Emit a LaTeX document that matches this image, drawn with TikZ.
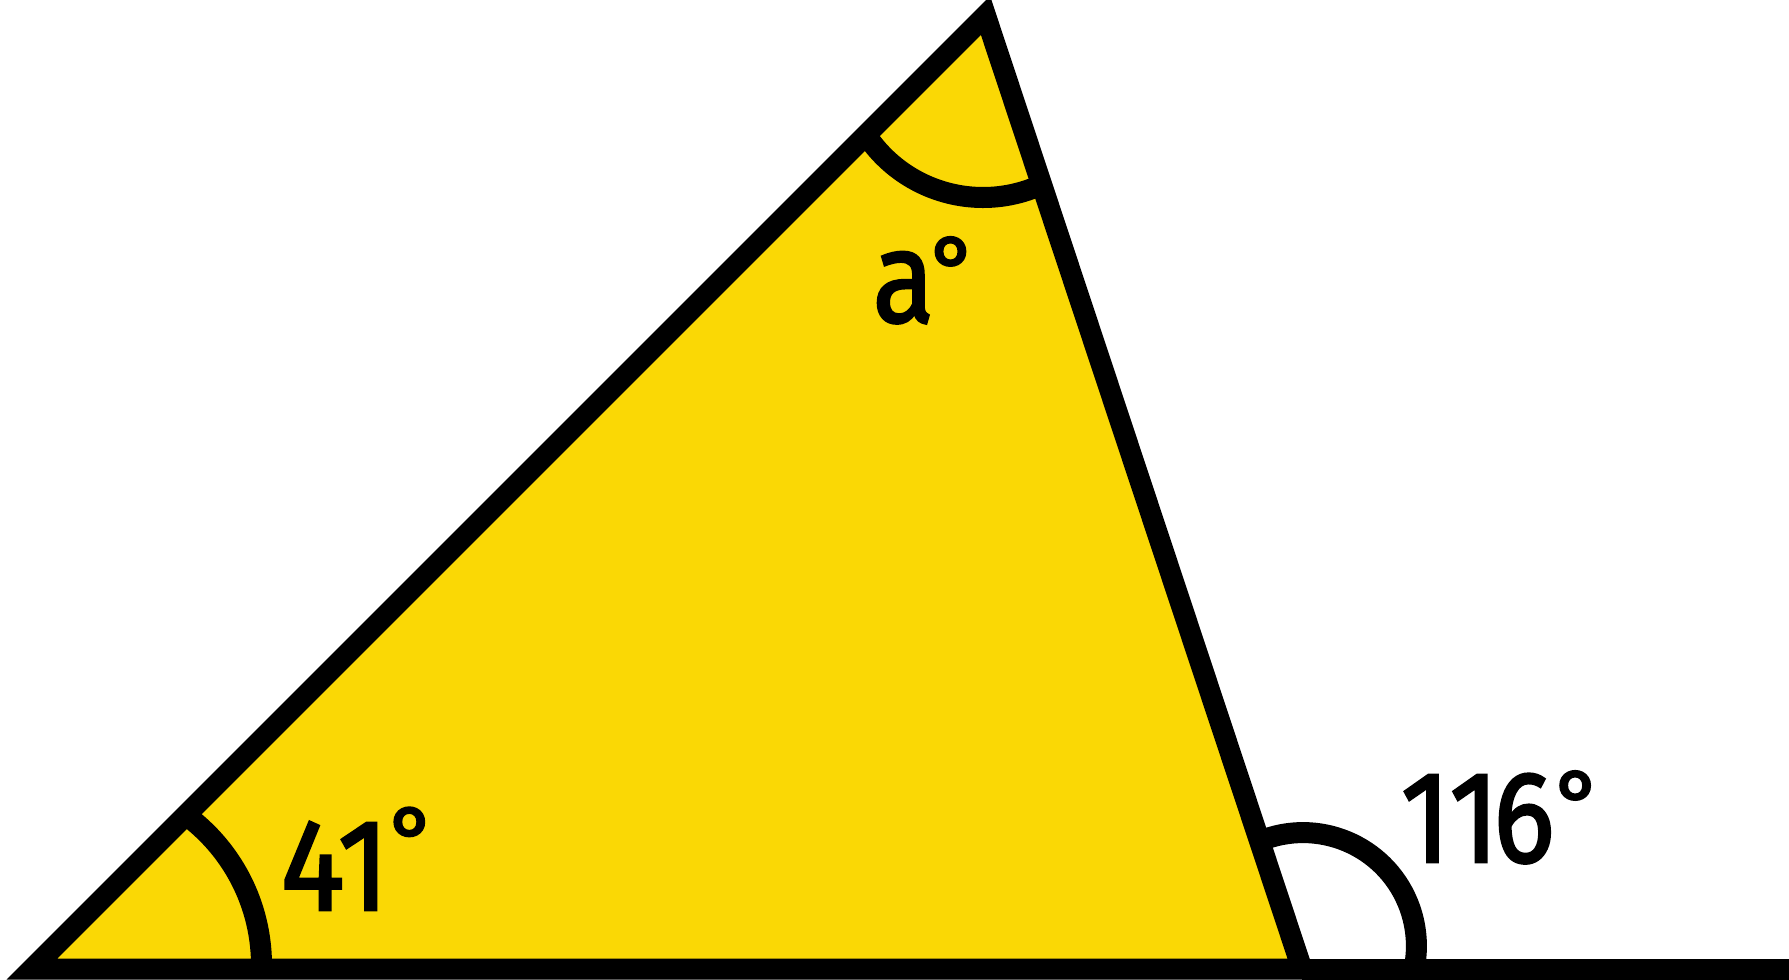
\documentclass[tikz,border=0pt]{standalone}
\usepackage{fontspec}
\newfontfamily\labfont{Fira Sans}[Numbers=Proportional,FakeBold=2]
\newcommand{\degsym}[1]{\raisebox{#1}{\fontsize{26}{28}\selectfont °}}
\definecolor{triyellow}{RGB}{250,216,5}
\begin{document}
\begin{tikzpicture}[x=0.01cm,y=-0.01cm,
  edge/.style={line width=0.21cm,line join=miter,draw=black},
  angarc/.style={line width=0.21cm,draw=black},
  lab/.style={font=\labfont\fontsize{37}{40}\selectfont,inner sep=0pt,text=black,anchor=base west}]
\useasboundingbox (0,0) rectangle (1789,980);
\clip (0,0) rectangle (1789,980);
\coordinate (A) at (32,969);
\coordinate (B) at (985.5,15.5);
\coordinate (C) at (1302,969);
\coordinate (E) at (1810,969);
\coordinate (OA) at (75,965);
\coordinate (OB) at (983,57);
\coordinate (OC) at (1303,946);
\fill[triyellow] (A) -- (B) -- (C) -- cycle;
\draw[angarc] (OA) ++(3:186.5) arc[start angle=3,end angle=-54.4,radius=186.5];
\draw[angarc] (OB) ++(66:140.5) arc[start angle=66,end angle=146.3,radius=140.5];
\draw[angarc] (OC) ++(-112.5:113.4) arc[start angle=-112.5,end angle=11.7,radius=113.4];
\draw[edge] (A) -- (B) -- (C) -- cycle;
\draw[edge] (C) -- (E);
\node[lab] (t41) at (280,910) {\scalebox{0.92}[1]{41}\kern 0pt\degsym{11pt}};
\node[lab] (t116) at (1400,862) {\scalebox{0.88}[1]{1\kern-0.3pt1\kern-1.8pt6}\kern 0.2pt\degsym{7.7pt}};
\node[lab] (ta) at (872,322) {\scalebox{0.87}[1]{a}\kern-1.1pt\degsym{6pt}};
\end{tikzpicture}
\end{document}
